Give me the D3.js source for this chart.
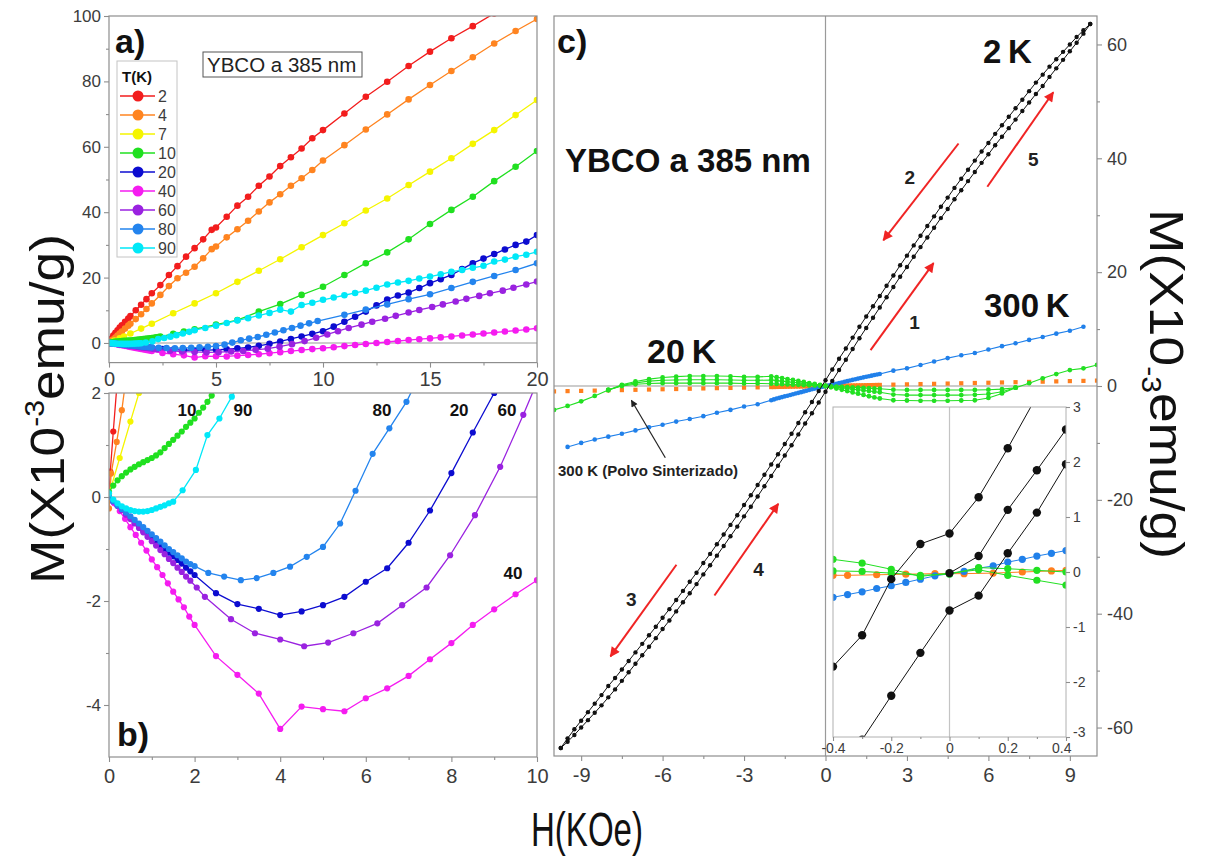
<!DOCTYPE html>
<html>
<head>
<meta charset="utf-8">
<script src="https://cdn.jsdelivr.net/npm/d3@7"></script>
<style>
  html, body { margin: 0; padding: 0; background: #fff; }
  svg { display: block; font-family: "Liberation Sans", Arial, sans-serif; }
</style>
</head>
<body>
<svg id="chart" width="1207" height="861"></svg>
<script>
// ---------- Panels a) and b): M(H) virgin curves, field in kOe, M in 1e-3 emu/g ----------
const temps = ["2", "4", "7", "10", "20", "40", "60", "80", "90"];
const tempColors = ["#f21d1d", "#ff8420", "#f5f500", "#20e020", "#0c0cd0", "#f51cf0", "#9a22e0", "#2384ee", "#00e8f8"];

const H_2K = [0,0.03,0.1,0.2,0.3,0.4,0.5,0.6,0.75,0.9,1,1.25,1.5,1.75,2,2.4,2.8,3.2,3.6,4,4.4,4.8,5,5.5,6,6.5,7,7.5,8,8.5,9,9.5,10,11,12,13,14,15,16,17,18,19,20];
const M_2K = [0,0.49,1.26,2.3,3.1,3.9,4.7,5.4,6.5,7.5,8.2,10,11.7,13.4,15.2,17.7,20.8,23.5,26.4,29,31.7,34.6,35.3,38.6,42,44.7,48.1,50.9,54.1,56.8,59.5,62.6,65.1,70.2,75.3,79.9,84.7,89.1,93.2,96.9,100.8,104.5,108];

const H_4K = [0,0.05,0.18,0.3,0.4,0.5,0.6,0.75,0.9,1,1.25,1.5,1.75,2,2.4,2.8,3.2,3.6,4,4.4,4.8,5,5.5,6,6.5,7,7.5,8,8.5,9,9.5,10,11,12,13,14,15,16,17,18,19,20];
const M_4K = [-0.22,0.45,1.06,1.67,2.3,2.9,3.5,4.4,5.3,5.9,7.3,8.8,10.4,12.1,14.7,17.4,19.8,21.5,23.3,25.9,28.7,29.5,32.3,34.8,37.4,40.2,43,45.5,48.1,50.4,52.9,55.8,60.5,65.3,69.9,74.5,78.9,83.2,87.4,91.6,95.4,99.1];

const H_7K = [0,0.25,0.5,0.7,1,1.5,2,3,4,5,6,7,8,9,10,11,12,13,14,15,16,17,18,19,20];
const M_7K = [0.05,0.75,1.45,2,2.9,4.4,5.9,9.1,12.1,15.2,18.7,22.1,25.6,29.3,33,36.6,40.5,44.2,48.3,52.4,56.5,60.9,65.1,69.7,74.3];

const H_10K = [0,0.1,0.2,0.3,0.4,0.5,0.6,0.7,0.8,0.9,1,1.1,1.2,1.3,1.4,1.5,1.6,1.7,1.8,1.9,2,2.1,2.2,2.3,2.4,3,3.5,4,5,6,7,8,9,10,11,12,13,14,15,16,17,18,19,20];
const M_10K = [0.1,0.22,0.32,0.4,0.47,0.53,0.58,0.63,0.67,0.71,0.75,0.8,0.86,0.94,1.02,1.1,1.18,1.26,1.35,1.43,1.51,1.62,1.72,1.83,1.95,2.8,3.5,4.2,5.6,7,9.6,11.9,14.7,17.2,20.8,24.4,27.7,31.7,36.4,40.7,44.7,49.5,53.9,58.7];

const H_20K = [0,0.1,0.2,0.3,0.4,0.5,0.6,0.7,0.8,0.9,1,1.1,1.2,1.3,1.4,1.5,1.6,1.7,1.8,1.9,2,2.5,3,3.5,4,4.5,5,5.5,6,6.5,7,7.5,8,8.5,9,9.5,10,10.5,11,11.5,12,12.5,13,13.5,14,14.5,15,15.5,16,16.5,17,17.5,18,18.5,19,19.5,20];
const M_20K = [0,-0.09,-0.17,-0.25,-0.33,-0.41,-0.49,-0.56,-0.64,-0.71,-0.79,-0.86,-0.93,-1,-1.07,-1.14,-1.21,-1.28,-1.36,-1.43,-1.5,-1.85,-2.06,-2.15,-2.27,-2.2,-2.08,-1.92,-1.63,-1.37,-0.88,-0.26,0.46,1.24,2,2.8,3.6,5,6.5,8,9.6,11.5,13.3,14.5,15.4,16.8,18.3,19.5,20.8,22.6,24.4,25.8,27.2,28.6,30,31,33];

const H_40K = [0,0.125,0.25,0.375,0.5,0.625,0.75,0.875,1,1.125,1.25,1.375,1.5,1.625,1.75,1.875,2,2.5,3,3.5,4,4.5,5,5.5,6,6.5,7,7.5,8,8.5,9,9.5,10,10.5,11,11.5,12,12.5,13,13.5,14,14.5,15,15.5,16,16.5,17,17.5,18,18.5,19,19.5,20];
const M_40K = [0,-0.12,-0.27,-0.42,-0.58,-0.73,-0.88,-1.03,-1.2,-1.35,-1.5,-1.66,-1.82,-1.97,-2.12,-2.3,-2.46,-3.06,-3.42,-3.78,-4.46,-4.03,-4.08,-4.12,-3.87,-3.68,-3.44,-3.12,-2.81,-2.46,-2.16,-1.87,-1.6,-1.3,-0.95,-0.62,-0.3,0,0.3,0.6,0.9,1.15,1.4,1.7,2,2.3,2.6,2.9,3.2,3.5,3.8,4.1,4.5];

const H_60K = [0,0.1,0.2,0.3,0.4,0.5,0.6,0.7,0.8,0.9,1,1.1,1.2,1.3,1.4,1.5,1.6,1.7,1.8,1.9,2.05,2.24,2.85,3.41,4,4.56,5.12,5.71,6.27,6.85,7.42,7.97,8.55,9.14,9.68,10.2,10.7,11.2,11.8,12.3,12.9,13.4,14,14.5,15.1,15.6,16.2,16.7,17.3,17.8,18.4,18.9,19.5,20];
const M_60K = [0,-0.085,-0.17,-0.255,-0.34,-0.425,-0.51,-0.595,-0.68,-0.765,-0.85,-0.935,-1.02,-1.1,-1.19,-1.27,-1.36,-1.44,-1.53,-1.61,-1.74,-1.92,-2.35,-2.62,-2.74,-2.87,-2.8,-2.62,-2.43,-2.08,-1.74,-1.12,-0.35,0.58,1.58,2.6,3.6,4.6,5.6,6.5,7.4,8.3,9.3,10.1,11,11.8,12.7,13.5,14.4,15.2,16,16.9,17.9,18.8];

const H_80K = [0,0.1,0.2,0.3,0.4,0.5,0.6,0.7,0.8,0.9,1,1.1,1.2,1.3,1.4,1.5,1.6,1.7,1.8,1.9,2,2.32,2.69,3.08,3.45,3.84,4.23,4.62,5,5.4,5.76,6.16,6.55,6.95,7.35,7.75,8.15,8.55,8.95,9.35,9.75,11,12,13,14,15,16,17,18,19,20];
const M_80K = [0,-0.08,-0.16,-0.23,-0.3,-0.37,-0.44,-0.51,-0.58,-0.65,-0.72,-0.79,-0.86,-0.93,-1,-1.06,-1.12,-1.18,-1.24,-1.29,-1.33,-1.46,-1.53,-1.6,-1.56,-1.46,-1.34,-1.15,-0.96,-0.51,0.12,0.83,1.32,1.83,2.5,3.2,3.9,4.6,5.3,6,6.7,8.6,10.2,11.8,13.4,14.9,16.8,18.7,20.5,22.3,24.4];

const H_90K = [0,0.1,0.2,0.3,0.4,0.5,0.6,0.7,0.8,0.9,1,1.1,1.2,1.3,1.4,1.5,1.72,2.03,2.3,2.58,2.87,3.15,3.45,3.75,4,4.5,5,5.5,6,6.5,7,7.5,8,8.5,9,9.5,10,10.5,11,11.5,12,12.5,13,13.5,14,14.5,15,15.5,16,16.5,17,17.5,18,18.5,19,19.5,20];
const M_90K = [0.07,-0.05,-0.12,-0.18,-0.22,-0.25,-0.27,-0.28,-0.28,-0.27,-0.25,-0.22,-0.19,-0.16,-0.12,-0.09,0.13,0.52,1.19,1.51,1.93,2.4,2.9,3.4,3.9,4.6,5.3,6.1,6.9,7.6,8.4,9.2,10.2,9.6,11.6,12.3,13.2,13.9,14.6,15.3,16,16.9,17.9,18.5,19,19.7,20.3,21,21.8,22.3,23,23.6,24.9,25.5,26.4,27,27.9];

const fieldByT = [H_2K, H_4K, H_7K, H_10K, H_20K, H_40K, H_60K, H_80K, H_90K];
const momentByT = [M_2K, M_4K, M_7K, M_10K, M_20K, M_40K, M_60K, M_80K, M_90K];

// curve tags in panel b (temperature, H, M position of the tag)
const tagText = ["10", "90", "80", "20", "60", "40"];
const tagH = [1.82, 3.13, 6.38, 8.18, 9.3, 9.44];
const tagM = [1.55, 1.55, 1.55, 1.55, 1.55, -1.58];

// tick values
const aTicksY = [0, 20, 40, 60, 80, 100], aMinorY = [10, 30, 50, 70, 90];
const aTicksX = [0, 5, 10, 15, 20], aMinorX = [2.5, 7.5, 12.5, 17.5];
const bTicksY = [2, 0, -2, -4], bMinorY = [1, -1, -3];
const bTicksX = [0, 2, 4, 6, 8, 10], bMinorX = [1, 3, 5, 7, 9];
const cTicksY = [-60, -40, -20, 0, 20, 40, 60], cMinorY = [-50, -30, -10, 10, 30, 50];
const cTicksX = [-9, -6, -3, 0, 3, 6, 9], cMinorX = [-7.5, -4.5, -1.5, 1.5, 4.5, 7.5];
const iTicksY = [-3, -2, -1, 0, 1, 2, 3];
const iTicksX = [-0.4, -0.2, 0, 0.2, 0.4], iMinorX = [-0.3, -0.1, 0.1, 0.3];

// ---------- Panel c): hysteresis loops ----------
const loopH = [-9.75,-9.5,-9.25,-9,-8.75,-8.5,-8.25,-8,-7.75,-7.5,-7.25,-7,-6.75,-6.5,-6.25,-6,-5.75,-5.5,-5.25,-5,-4.75,-4.5,-4.25,-4,-3.75,-3.5,-3.25,-3,-2.75,-2.5,-2.25,-2,-1.75,-1.5,-1.25,-1,-0.75,-0.5,-0.25,0,0.25,0.5,0.75,1,1.25,1.5,1.75,2,2.25,2.5,2.75,3,3.25,3.5,3.75,4,4.25,4.5,4.75,5,5.25,5.5,5.75,6,6.25,6.5,6.75,7,7.25,7.5,7.75,8,8.25,8.5,8.75,9,9.25,9.5,9.75];
// 2 K, decreasing-field branch
const loopDown2K = [-63.6,-61.9,-60.3,-58.8,-57.3,-55.8,-54.3,-52.7,-51.3,-49.8,-48.3,-46.8,-45.3,-43.8,-42.3,-40.7,-39.2,-37.6,-36,-34.4,-32.8,-31.1,-29.5,-27.8,-26.1,-24.4,-22.7,-20.9,-19.2,-17.4,-15.6,-13.8,-12,-10.2,-8.4,-6.5,-4.6,-2.8,-0.9,1,2.9,4.8,6.6,8.5,10.4,12.2,14,15.8,17.6,19.4,21.2,22.9,24.7,26.4,28.1,29.8,31.5,33.1,34.8,36.4,38,39.6,41.2,42.7,44.3,45.8,47.3,48.8,50.3,51.8,53.3,54.7,56.1,57.4,58.7,60,61.3,62.5,63.6];
// 2 K, increasing-field branch
const loopUp2K = [-63.6,-62.5,-61.3,-60,-58.7,-57.4,-56.1,-54.7,-53.3,-51.8,-50.3,-48.8,-47.3,-45.8,-44.3,-42.7,-41.2,-39.6,-38,-36.4,-34.8,-33.1,-31.5,-29.8,-28.1,-26.4,-24.7,-22.9,-21.2,-19.4,-17.6,-15.8,-14,-12.2,-10.4,-8.5,-6.6,-4.8,-2.9,-1,0.9,2.8,4.6,6.5,8.4,10.2,12,13.8,15.6,17.4,19.2,20.9,22.7,24.4,26.1,27.8,29.5,31.1,32.8,34.4,36,37.6,39.2,40.7,42.3,43.8,45.3,46.8,48.3,49.8,51.3,52.7,54.3,55.8,57.3,58.8,60.3,61.9,63.6];

// 300 K film
const film300H = [-9.5,-9,-8.5,-8,-7.5,-7,-6.5,-6,-5.5,-5,-4.5,-4,-3.5,-3,-2.5,-2,-1.9,-1.8,-1.7,-1.6,-1.5,-1.4,-1.3,-1.2,-1.1,-1,-0.9,-0.8,-0.7,-0.6,-0.5,-0.4,-0.3,-0.2,-0.1,0,0.1,0.2,0.3,0.4,0.5,0.6,0.7,0.8,0.9,1,1.1,1.2,1.3,1.4,1.5,1.6,1.7,1.8,1.9,2,2.5,3,3.5,4,4.5,5,5.5,6,6.5,7,7.5,8,8.5,9,9.5];
const film300M = [-10.7,-10,-9.4,-8.9,-8.4,-7.8,-7.25,-6.8,-6.25,-5.8,-5.3,-4.7,-4.2,-3.6,-3.2,-2.5,-2.35,-2.2,-2.08,-1.95,-1.82,-1.7,-1.58,-1.45,-1.32,-1.2,-1.08,-0.95,-0.83,-0.7,-0.58,-0.46,-0.35,-0.24,-0.13,-0.02,0.09,0.19,0.29,0.39,0.5,0.62,0.74,0.85,0.97,1.08,1.19,1.3,1.41,1.52,1.62,1.72,1.82,1.92,2.01,2.1,2.7,3.1,3.7,4.3,4.9,5.4,5.8,6.4,7,7.5,8.1,8.6,9.2,9.7,10.4];

// 300 K sintered powder
const powderH = [-10,-9.5,-9,-8.5,-8,-7.5,-7,-6.5,-6,-5.5,-5,-4.5,-4,-3.5,-3,-2.5,-2,-1.9,-1.8,-1.7,-1.6,-1.5,-1.4,-1.3,-1.2,-1.1,-1,-0.9,-0.8,-0.7,-0.6,-0.5,-0.4,-0.3,-0.2,-0.1,0,0.1,0.2,0.3,0.4,0.5,0.6,0.7,0.8,0.9,1,1.1,1.2,1.3,1.4,1.5,1.6,1.7,1.8,1.9,2,2.5,3,3.5,4,4.5,5,5.5,6,6.5,7,7.5,8,8.5,9,9.5,10];
const powderM = [-0.95,-0.9,-0.86,-0.81,-0.76,-0.72,-0.67,-0.62,-0.57,-0.53,-0.48,-0.43,-0.38,-0.34,-0.29,-0.24,-0.19,-0.18,-0.17,-0.16,-0.15,-0.14,-0.13,-0.12,-0.11,-0.1,-0.095,-0.085,-0.076,-0.066,-0.057,-0.047,-0.038,-0.028,-0.019,-0.009,0,0.009,0.019,0.028,0.038,0.047,0.057,0.066,0.076,0.085,0.095,0.1,0.11,0.12,0.13,0.14,0.15,0.16,0.17,0.18,0.19,0.24,0.29,0.34,0.38,0.43,0.48,0.53,0.57,0.62,0.67,0.72,0.76,0.81,0.86,0.9,0.95];

// 20 K film, three sweeps
const loop20H_a = [-10,-9.5,-9,-8.5,-8,-7.5,-7,-6.5,-6,-5.5,-5,-4.5,-4,-3.5,-3,-2.5,-2,-1.8,-1.6,-1.4,-1.2,-1,-0.8,-0.6,-0.4,-0.2,0,0.2,0.4,0.6,0.8,1,1.2,1.4,1.6,1.8,2,2.5,3,3.5,4,4.5,5,5.5,6,6.5,7,7.5,8,8.5,9,9.5,10];
const loop20M_a = [-4.2,-3.5,-2.7,-1.75,-0.7,0.2,0.8,1.2,1.5,1.65,1.75,1.75,1.75,1.7,1.6,1.6,1.7,1.55,1.4,1.22,1.05,0.88,0.7,0.52,0.35,0.18,0,-0.22,-0.45,-0.67,-0.9,-1.12,-1.35,-1.57,-1.8,-2,-2.2,-2.5,-2.55,-2.6,-2.6,-2.6,-2.55,-2.5,-2.1,-1.3,-0.3,0.5,1.35,2.1,2.8,3.1,3.7];
const loop20H_b = [-8,-7.5,-7,-6.5,-6,-5.5,-5,-4.5,-4,-3.5,-3,-2.5,-2,-1.8,-1.6,-1.4,-1.2,-1,-0.8,-0.6,-0.4,-0.2,0,0.2,0.4,0.6,0.8,1,1.2,1.4,1.6,1.8,2,2.5,3,3.5,4,4.5,5,5.5,6,6.5,7];
const loop20M_b = [-0.7,0.1,0.55,0.85,1,1.05,1.1,1.1,1.1,1.05,1,1,1.05,0.95,0.85,0.75,0.65,0.55,0.44,0.33,0.22,0.11,0,-0.11,-0.22,-0.33,-0.44,-0.55,-0.66,-0.77,-0.88,-1,-1.1,-1.5,-1.6,-1.6,-1.6,-1.6,-1.6,-1.55,-1.4,-1,-0.3];
const loop20M_c = [-0.7,0,0.3,0.45,0.5,0.5,0.5,0.5,0.5,0.5,0.45,0.45,0.4,0.36,0.32,0.28,0.24,0.2,0.16,0.12,0.08,0.04,0,-0.05,-0.1,-0.14,-0.19,-0.24,-0.28,-0.33,-0.38,-0.42,-0.47,-0.65,-0.7,-0.7,-0.7,-0.7,-0.7,-0.7,-0.65,-0.55,-0.3];

// ---------- Inset: low-field detail ----------
const insH_2Ka = [-0.4,-0.3,-0.2,-0.1,0,0.1,0.2,0.3];
const insM_2Ka = [-1.72,-1.15,-0.13,0.51,0.7,1.36,2.25,3.2];
const insH_2Kb = [0,0.1,0.2,0.3,0.4];
const insM_2Kb = [-0.02,0.29,1.13,1.85,2.59];
const insH_2Kc = [-0.3,-0.2,-0.1,0,0.1,0.2,0.3,0.4];
const insM_2Kc = [-3.05,-2.25,-1.47,-0.7,-0.43,0.34,1.08,1.96];
const insH_300 = [-0.4,-0.35,-0.3,-0.25,-0.2,-0.15,-0.1,-0.05,0,0.05,0.1,0.15,0.2,0.25,0.3,0.35,0.4];
const insM_300 = [-0.46,-0.41,-0.36,-0.3,-0.25,-0.19,-0.13,-0.07,-0.03,0.01,0.07,0.11,0.18,0.23,0.29,0.34,0.39];
const insH_powder = [-0.4,-0.35,-0.25,-0.15,-0.05,0.05,0.15,0.25,0.35,0.4];
const insM_powder = [-0.06,-0.06,-0.05,-0.04,-0.03,-0.03,-0.02,0,0.02,0.03];
const insH_20 = [-0.4,-0.3,-0.2,-0.1,0,0.1,0.2,0.3,0.4];
const insM_20a = [0.23,0.16,0.05,-0.08,-0.02,0.04,-0.06,-0.15,-0.24];
const insM_20b = [0.02,0.01,-0.02,-0.06,-0.04,0.08,0.06,0.03,0];

// ---------- drawing ----------
const FRAME = "#8e8e8e", TICK = "#8e8e8e", TXT = "#3c3c3c", ZERO = "#9a9a9a";
const BLACK = "#111", C_BLUE = "#2080ea", C_ORANGE = "#ff7f1e", C_GREEN = "#22e022", ARROW = "#f02424";
const plain = d => String(d);   // "-2", "0.2", "-0.4" with a plain hyphen

const svg = d3.select("#chart");
const defs = svg.append("defs");

function clip(id, x0, y0, x1, y1) {
  defs.append("clipPath").attr("id", id)
    .append("rect").attr("x", x0).attr("y", y0).attr("width", x1 - x0).attr("height", y1 - y0);
  return svg.append("g").attr("clip-path", `url(#${id})`);
}
function frame(x0, y0, x1, y1) {
  svg.append("rect").attr("x", x0).attr("y", y0).attr("width", x1 - x0).attr("height", y1 - y0)
    .attr("fill", "none").attr("stroke", FRAME).attr("stroke-width", 1.2);
}
function series(g, xs, ys, H, M, o) {
  const pts = H.map((h, i) => ({ h, m: M[i] }));
  if (o.line !== false) {
    g.append("path")
      .attr("d", d3.line().x(d => xs(d.h)).y(d => ys(d.m))(pts))
      .attr("fill", "none").attr("stroke", o.color).attr("stroke-width", o.lw || 1.2);
  }
  if (o.square) {
    g.selectAll(null).data(pts).join("rect")
      .attr("x", d => xs(d.h) - o.r).attr("y", d => ys(d.m) - o.r)
      .attr("width", 2 * o.r).attr("height", 2 * o.r).attr("fill", o.color);
  } else {
    g.selectAll(null).data(pts).join("circle")
      .attr("cx", d => xs(d.h)).attr("cy", d => ys(d.m)).attr("r", o.r).attr("fill", o.color);
  }
}
function axis(gen, tx, ty, size, labels) {
  const g = svg.append("g").attr("transform", `translate(${tx},${ty})`).call(gen.tickFormat(plain))
    .attr("font-family", "Liberation Sans, Arial, sans-serif").attr("font-size", size);
  g.select(".domain").remove();
  g.selectAll("line").attr("stroke", TICK).attr("stroke-width", 1.1);
  g.selectAll("text").attr("fill", TXT);
  if (!labels) g.selectAll("text").remove();
  return g;
}
function label(x, y, txt, size, opts = {}) {
  return svg.append("text").attr("x", x).attr("y", y).text(txt)
    .attr("font-size", size).attr("font-weight", opts.bold ? "bold" : null)
    .attr("text-anchor", opts.anchor || "start").attr("fill", opts.fill || BLACK);
}

// ===== Panel a =====
const ax = d3.scaleLinear().domain([0, 20]).range([109, 537]);
const ay = d3.scaleLinear().domain([-6, 100]).range([362.6, 16]);
const ga = clip("clipA", 109, 16, 537, 362.6);
ga.append("line").attr("x1", 109).attr("x2", 537).attr("y1", ay(0)).attr("y2", ay(0)).attr("stroke", ZERO).attr("stroke-width", 1.2);
temps.forEach((t, i) => series(ga, ax, ay, fieldByT[i], momentByT[i], { color: tempColors[i], r: 3.3, lw: 1.3 }));
frame(109, 16, 537, 362.6);
axis(d3.axisLeft(ay).tickValues(aTicksY).tickSize(5).tickPadding(3), 109, 0, 17, true);
axis(d3.axisLeft(ay).tickValues(aMinorY).tickSize(3), 109, 0, 10, false);
axis(d3.axisBottom(ax).tickValues(aTicksX).tickSize(5).tickPadding(4), 0, 362.6, 20, true);
axis(d3.axisBottom(ax).tickValues(aMinorX).tickSize(3), 0, 362.6, 10, false);

// legend
svg.append("rect").attr("x", 117).attr("y", 61).attr("width", 60).attr("height", 196)
  .attr("fill", "#fff").attr("stroke", "#c4c4c4").attr("stroke-width", 1);
label(122, 82, "T(K)", 15, { bold: true });
temps.forEach((t, i) => {
  const y = 96 + i * 19;
  svg.append("line").attr("x1", 120).attr("x2", 155).attr("y1", y).attr("y2", y).attr("stroke", tempColors[i]).attr("stroke-width", 1.6);
  svg.append("circle").attr("cx", 138).attr("cy", y).attr("r", 5.5).attr("fill", tempColors[i]);
  label(158, y + 6, t, 16, { fill: TXT });
});
svg.append("rect").attr("x", 203).attr("y", 52).attr("width", 159).attr("height", 25)
  .attr("fill", "#fff").attr("stroke", "#555").attr("stroke-width", 1);
label(207, 72, "YBCO a 385 nm", 20.5, { fill: "#222" });
label(115, 53, "a)", 34, { bold: true });

// ===== Panel b =====
const bx = d3.scaleLinear().domain([0, 10]).range([109, 537]);
const by = d3.scaleLinear().domain([-5, 2]).range([757, 393]);
const gb = clip("clipB", 109, 393, 537, 757);
gb.append("line").attr("x1", 109).attr("x2", 537).attr("y1", by(0)).attr("y2", by(0)).attr("stroke", ZERO).attr("stroke-width", 1.2);
temps.forEach((t, i) => series(gb, bx, by, fieldByT[i], momentByT[i], { color: tempColors[i], r: 3.1, lw: 1.3 }));
frame(109, 393, 537, 757);
axis(d3.axisLeft(by).tickValues(bTicksY).tickSize(5).tickPadding(3), 109, 0, 17, true);
axis(d3.axisLeft(by).tickValues(bMinorY).tickSize(3), 109, 0, 10, false);
axis(d3.axisBottom(bx).tickValues(bTicksX).tickSize(5).tickPadding(7), 0, 757, 20, true);
axis(d3.axisBottom(bx).tickValues(bMinorX).tickSize(3), 0, 757, 10, false);
tagText.forEach((t, i) => label(bx(tagH[i]), by(tagM[i]), t, 17, { bold: true, anchor: "middle" }));
label(117, 746, "b)", 34, { bold: true });

// ===== Panel c =====
const cx = d3.scaleLinear().domain([-10, 10]).range([554, 1097]);
const cy = d3.scaleLinear().domain([-65, 65]).range([756, 16]);
const gc = clip("clipC", 554, 16, 1097, 756);
gc.append("line").attr("x1", 554).attr("x2", 1097).attr("y1", cy(0)).attr("y2", cy(0)).attr("stroke", ZERO).attr("stroke-width", 1.2);
gc.append("line").attr("x1", cx(0)).attr("x2", cx(0)).attr("y1", 16).attr("y2", 756).attr("stroke", ZERO).attr("stroke-width", 1.2);
series(gc, cx, cy, powderH, powderM, { color: C_ORANGE, r: 2.1, line: false, square: true });
series(gc, cx, cy, film300H, film300M, { color: C_BLUE, r: 2.3, lw: 1.1 });
series(gc, cx, cy, loop20H_a, loop20M_a, { color: C_GREEN, r: 2.4, lw: 1.1 });
series(gc, cx, cy, loop20H_b, loop20M_b, { color: C_GREEN, r: 2.4, lw: 1.1 });
series(gc, cx, cy, loop20H_b, loop20M_c, { color: C_GREEN, r: 2.4, lw: 1.1 });
series(gc, cx, cy, loopH, loopDown2K, { color: BLACK, r: 2.2, lw: 1 });
series(gc, cx, cy, loopH, loopUp2K, { color: BLACK, r: 2.2, lw: 1 });
frame(554, 16, 1097, 756);
axis(d3.axisRight(cy).tickValues(cTicksY).tickSize(5).tickPadding(5), 1097, 0, 18, true);
axis(d3.axisRight(cy).tickValues(cMinorY).tickSize(3), 1097, 0, 10, false);
axis(d3.axisBottom(cx).tickValues(cTicksX).tickSize(5).tickPadding(7), 0, 756, 20, true);
axis(d3.axisBottom(cx).tickValues(cMinorX).tickSize(3), 0, 756, 10, false);

label(557, 53, "c)", 34, { bold: true });
label(565, 172, "YBCO a 385 nm", 33, { bold: true });
label(647, 363, "20\u2009K", 34, { bold: true });
label(983, 63, "2\u2009K", 33, { bold: true });
label(984, 317, "300\u2009K", 33, { bold: true });

// sweep-direction arrows
defs.append("marker").attr("id", "redHead").attr("viewBox", "0 0 10 10").attr("refX", 9).attr("refY", 5)
  .attr("markerUnits", "userSpaceOnUse").attr("markerWidth", 13).attr("markerHeight", 10).attr("orient", "auto")
  .append("path").attr("d", "M0,0 L10,5 L0,10 Z").attr("fill", ARROW);
defs.append("marker").attr("id", "blackHead").attr("viewBox", "0 0 10 10").attr("refX", 9).attr("refY", 5)
  .attr("markerUnits", "userSpaceOnUse").attr("markerWidth", 9).attr("markerHeight", 7).attr("orient", "auto")
  .append("path").attr("d", "M0,0 L10,5 L0,10 Z").attr("fill", "#222");
const sweeps = [
  { n: "1", from: [1.66, 6.3], to: [3.98, 21.6], at: [3.28, 11.2] },
  { n: "2", from: [4.9, 42.6], to: [2.13, 25.6], at: [3.1, 36.8] },
  { n: "5", from: [5.96, 35.0], to: [8.39, 51.6], at: [7.65, 39.8] },
  { n: "3", from: [-5.49, -31.4], to: [-7.92, -47.5], at: [-7.15, -37.5] },
  { n: "4", from: [-4.09, -36.8], to: [-1.74, -20.7], at: [-2.47, -32.2] }
];
sweeps.forEach(s => {
  svg.append("line").attr("x1", cx(s.from[0])).attr("y1", cy(s.from[1]))
    .attr("x2", cx(s.to[0])).attr("y2", cy(s.to[1]))
    .attr("stroke", ARROW).attr("stroke-width", 2).attr("marker-end", "url(#redHead)");
  label(cx(s.at[0]), cy(s.at[1]) + 7, s.n, 19, { bold: true, anchor: "middle", fill: "#222" });
});
svg.append("line").attr("x1", cx(-5.9)).attr("y1", cy(-12.6)).attr("x2", cx(-7.15)).attr("y2", cy(-2.5))
  .attr("stroke", "#222").attr("stroke-width", 1.2).attr("marker-end", "url(#blackHead)");
label(558, 476, "300 K (Polvo Sinterizado)", 15, { bold: true, fill: "#222" });

// ===== Inset =====
svg.append("rect").attr("x", 831).attr("y", 403).attr("width", 265).attr("height", 352).attr("fill", "#fff");
const ix = d3.scaleLinear().domain([-0.4, 0.4]).range([833, 1066]);
const iy = d3.scaleLinear().domain([-3, 3]).range([737, 407]);
const gi = clip("clipI", 833, 407, 1066, 737);
gi.append("line").attr("x1", ix(0)).attr("x2", ix(0)).attr("y1", 407).attr("y2", 737).attr("stroke", "#c4c4c4").attr("stroke-width", 1.2);
series(gi, ix, iy, insH_powder, insM_powder, { color: C_ORANGE, r: 3.6, lw: 1 });
series(gi, ix, iy, insH_300, insM_300, { color: C_BLUE, r: 3.6, lw: 1 });
series(gi, ix, iy, insH_20, insM_20a, { color: C_GREEN, r: 3.6, lw: 1 });
series(gi, ix, iy, insH_20, insM_20b, { color: C_GREEN, r: 3.6, lw: 1 });
series(gi, ix, iy, insH_2Ka, insM_2Ka, { color: BLACK, r: 4.2, lw: 1 });
series(gi, ix, iy, insH_2Kb, insM_2Kb, { color: BLACK, r: 4.2, lw: 1 });
series(gi, ix, iy, insH_2Kc, insM_2Kc, { color: BLACK, r: 4.2, lw: 1 });
svg.append("rect").attr("x", 833).attr("y", 407).attr("width", 233).attr("height", 330)
  .attr("fill", "none").attr("stroke", "#b0b0b0").attr("stroke-width", 1);
const iyAxis = axis(d3.axisRight(iy).tickValues(iTicksY).tickSize(4).tickPadding(3), 1066, 0, 14, true);
iyAxis.selectAll(".tick").filter(d => d === -3).select("text").attr("dy", "-0.05em");
const ixAxis = axis(d3.axisBottom(ix).tickValues(iTicksX).tickSize(4).tickPadding(2), 0, 737, 14, true);
ixAxis.selectAll(".tick").filter(d => d === 0.4).select("text").attr("text-anchor", "end").attr("x", 5);
axis(d3.axisBottom(ix).tickValues(iMinorX).tickSize(2), 0, 737, 10, false);

// ===== Axis titles =====
function titleM(tx, ty, rot, supDy) {
  const t = svg.append("text").attr("transform", `translate(${tx},${ty}) rotate(${rot})`)
    .attr("text-anchor", "middle").attr("font-size", 48).attr("fill", "#111")
    .attr("textLength", 350).attr("lengthAdjust", "spacingAndGlyphs");
  t.append("tspan").text("M(X10");
  t.append("tspan").attr("dy", supDy).attr("font-size", 27).text("-3");
  t.append("tspan").attr("dy", -supDy).text("emu/g)");
}
titleM(64, 409, -90, -20);
titleM(1150, 384, 90, 8);
svg.append("text").attr("x", 587).attr("y", 846).attr("text-anchor", "middle")
  .attr("font-size", 48).attr("fill", "#111")
  .attr("textLength", 112).attr("lengthAdjust", "spacingAndGlyphs").text("H(KOe)");
</script>
</body>
</html>
